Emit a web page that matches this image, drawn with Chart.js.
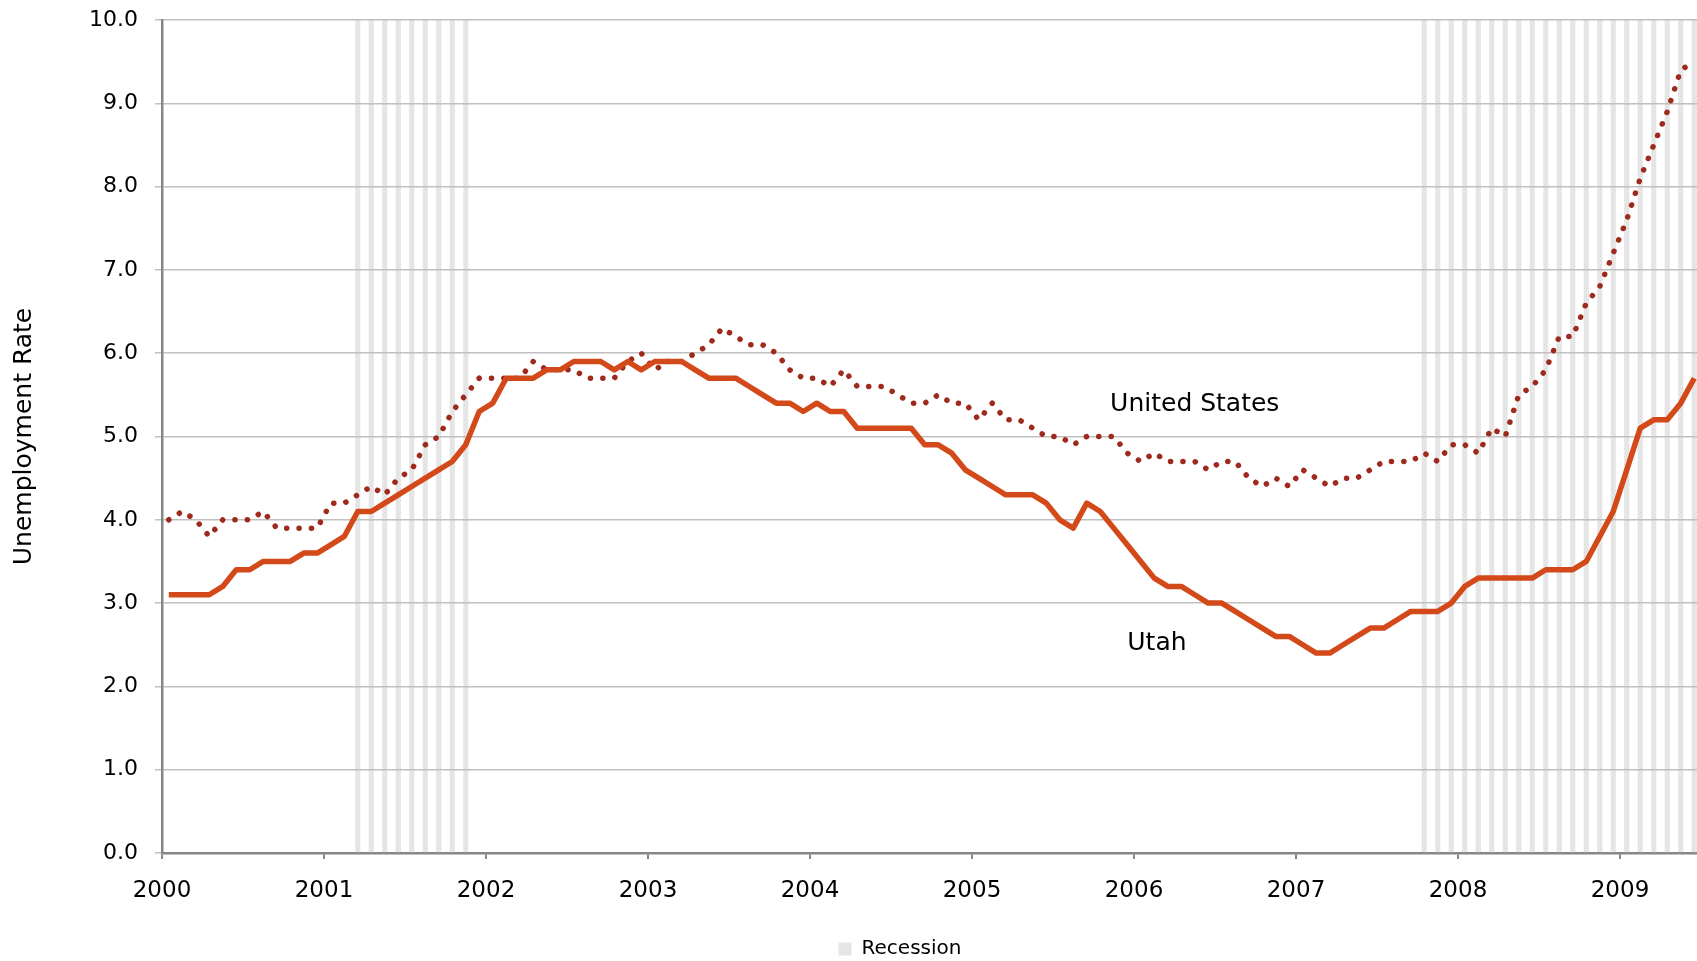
<!DOCTYPE html>
<html lang="en">
<head>
<meta charset="UTF-8">
<title>Unemployment Rate: Utah and United States</title>
<style>
  html,body{margin:0;padding:0;background:#fff;overflow:hidden;}
  #wrap{position:relative;width:1703px;height:961px;}
</style>
<script src="https://cdn.jsdelivr.net/npm/chart.js"></script>
</head>
<body>
<div id="wrap"><canvas id="chart"></canvas></div>
<script>
/* ===== Data: monthly, Jan 2000 - Jun 2009 ===== */
const years=["2000","2001","2002","2003","2004","2005","2006","2007","2008","2009"];
const monthNames=["Jan","Feb","Mar","Apr","May","Jun","Jul","Aug","Sep","Oct","Nov","Dec"];
const months=[];
years.forEach(y=>monthNames.forEach(m=>months.push(m+" "+y)));
months.length=114; // series end in Jun 2009

const usRate=[
  4.0,4.1,4.0,3.8,4.0,4.0,4.0,4.1,3.9,3.9,3.9,3.9,
  4.2,4.2,4.3,4.4,4.3,4.5,4.6,4.9,5.0,5.3,5.5,5.7,
  5.7,5.7,5.7,5.9,5.8,5.8,5.8,5.7,5.7,5.7,5.9,6.0,
  5.8,5.9,5.9,6.0,6.1,6.3,6.2,6.1,6.1,6.0,5.8,5.7,
  5.7,5.6,5.8,5.6,5.6,5.6,5.5,5.4,5.4,5.5,5.4,5.4,
  5.2,5.4,5.2,5.2,5.1,5.0,5.0,4.9,5.0,5.0,5.0,4.8,
  4.7,4.8,4.7,4.7,4.7,4.6,4.7,4.7,4.5,4.4,4.5,4.4,
  4.6,4.5,4.4,4.5,4.5,4.6,4.7,4.7,4.7,4.8,4.7,4.9,
  4.9,4.8,5.1,5.0,5.5,5.6,5.8,6.2,6.2,6.6,6.8,7.2,
  7.6,8.1,8.5,8.9,9.4,9.5
];
const utahRate=[
  3.1,3.1,3.1,3.1,3.2,3.4,3.4,3.5,3.5,3.5,3.6,3.6,
  3.7,3.8,4.1,4.1,4.2,4.3,4.4,4.5,4.6,4.7,4.9,5.3,
  5.4,5.7,5.7,5.7,5.8,5.8,5.9,5.9,5.9,5.8,5.9,5.8,
  5.9,5.9,5.9,5.8,5.7,5.7,5.7,5.6,5.5,5.4,5.4,5.3,
  5.4,5.3,5.3,5.1,5.1,5.1,5.1,5.1,4.9,4.9,4.8,4.6,
  4.5,4.4,4.3,4.3,4.3,4.2,4.0,3.9,4.2,4.1,3.9,3.7,
  3.5,3.3,3.2,3.2,3.1,3.0,3.0,2.9,2.8,2.7,2.6,2.6,
  2.5,2.4,2.4,2.5,2.6,2.7,2.7,2.8,2.9,2.9,2.9,3.0,
  3.2,3.3,3.3,3.3,3.3,3.3,3.4,3.4,3.4,3.5,3.8,4.1,
  4.6,5.1,5.2,5.2,5.4,5.7
];
// recession periods (first and last month shaded)
const recessions=[["Mar 2001","Nov 2001"],["Oct 2007","Jun 2009"]];
const yMax=10;

const recessionBars=months.map((m,i)=>recessions.some(([a,b])=>i>=months.indexOf(a)&&i<=months.indexOf(b))?yMax:null);

/* ===== Text labels on the plot (data units) ===== */
const notes=[
  {text:"United States",x:76.5,y:5.39},
  {text:"Utah",x:73.7,y:2.51}
];

/* ===== Helpers ===== */
const FONT="'DejaVu Sans', Arial, sans-serif";
function makePattern(){
  const c=document.createElement("canvas");c.width=4;c.height=4;
  const g=c.getContext("2d");
  g.fillStyle="rgba(195,195,195,0.40)";g.fillRect(0,0,4,4);
  g.fillStyle="rgba(160,160,160,0.22)";g.fillRect(0,0,1,1);g.fillRect(2,2,1,1);
  return g.createPattern(c,"repeat");
}

const notePlugin={
  id:"notes",
  afterDatasetsDraw(chart){
    const {ctx,scales}=chart;
    ctx.save();
    ctx.font="25px "+FONT;ctx.fillStyle="#000";ctx.textAlign="center";ctx.textBaseline="middle";
    notes.forEach(n=>ctx.fillText(n.text,scales.xYear.getPixelForValue(n.x),scales.y.getPixelForValue(n.y)));
    ctx.restore();
  }
};
// move the legend under the plot like the original
const legendShift={
  id:"legendShift",
  afterLayout(chart){
    const lg=chart.legend;if(!lg)return;
    const dx=900-(lg.left+lg.right)/2,dy=949-(lg.top+lg.height/2);
    lg.left+=dx;lg.right+=dx;lg.top+=dy;lg.bottom+=dy;
  }
};

/* ===== Chart ===== */
new Chart(document.getElementById("chart"),{
  type:"bar",
  data:{
    labels:months,
    datasets:[
      {type:"line",label:"Utah",data:utahRate,borderColor:"#D4491A",borderWidth:5.5,
       pointRadius:0,tension:0,borderJoinStyle:"round",order:1},
      {type:"line",label:"United States",data:usRate,borderColor:"#9E2A1E",borderWidth:5.5,
       borderDash:[0.1,12.3],borderCapStyle:"round",pointRadius:0,tension:0,order:2},
      {type:"bar",label:"Recession",data:recessionBars,backgroundColor:makePattern(),
       borderWidth:0,barThickness:4.5,order:3}
    ]
  },
  options:{
    responsive:true,maintainAspectRatio:false,animation:false,
    layout:{padding:{left:8,right:2,top:10,bottom:0}},
    plugins:{
      tooltip:{enabled:false},
      legend:{position:"bottom",
        labels:{font:{family:FONT,size:20},color:"#000",boxWidth:13,boxHeight:13,padding:10,
          filter:item=>item.text==="Recession"}}
    },
    scales:{
      x:{type:"category",display:false,offset:true},
      xYear:{type:"linear",position:"bottom",min:0,max:114,offset:false,
        afterFit(s){s.height=68;},
        ticks:{stepSize:12,includeBounds:false,autoSkip:false,maxRotation:0,padding:18,
          font:{family:FONT,size:23},color:"#000",
          callback:v=>years[v/12]??""},
        grid:{offset:false,drawOnChartArea:false,drawTicks:true,tickLength:6,color:"#868686",lineWidth:2},
        border:{color:"#868686",width:2.5}},
      y:{min:0,max:yMax,
        afterFit(s){s.width=154;s.paddingTop=20;},
        ticks:{stepSize:1,padding:17,font:{family:FONT,size:22},color:"#000",
          callback:v=>v.toFixed(1)},
        grid:{color:"#c0c0c0",lineWidth:1.5,tickLength:7},
        border:{color:"#868686",width:2.5},
        title:{display:true,text:"Unemployment Rate",font:{family:FONT,size:25},color:"#000",
          padding:{top:1,bottom:0}}}
    }
  },
  plugins:[notePlugin,legendShift]
});
</script>
</body>
</html>
